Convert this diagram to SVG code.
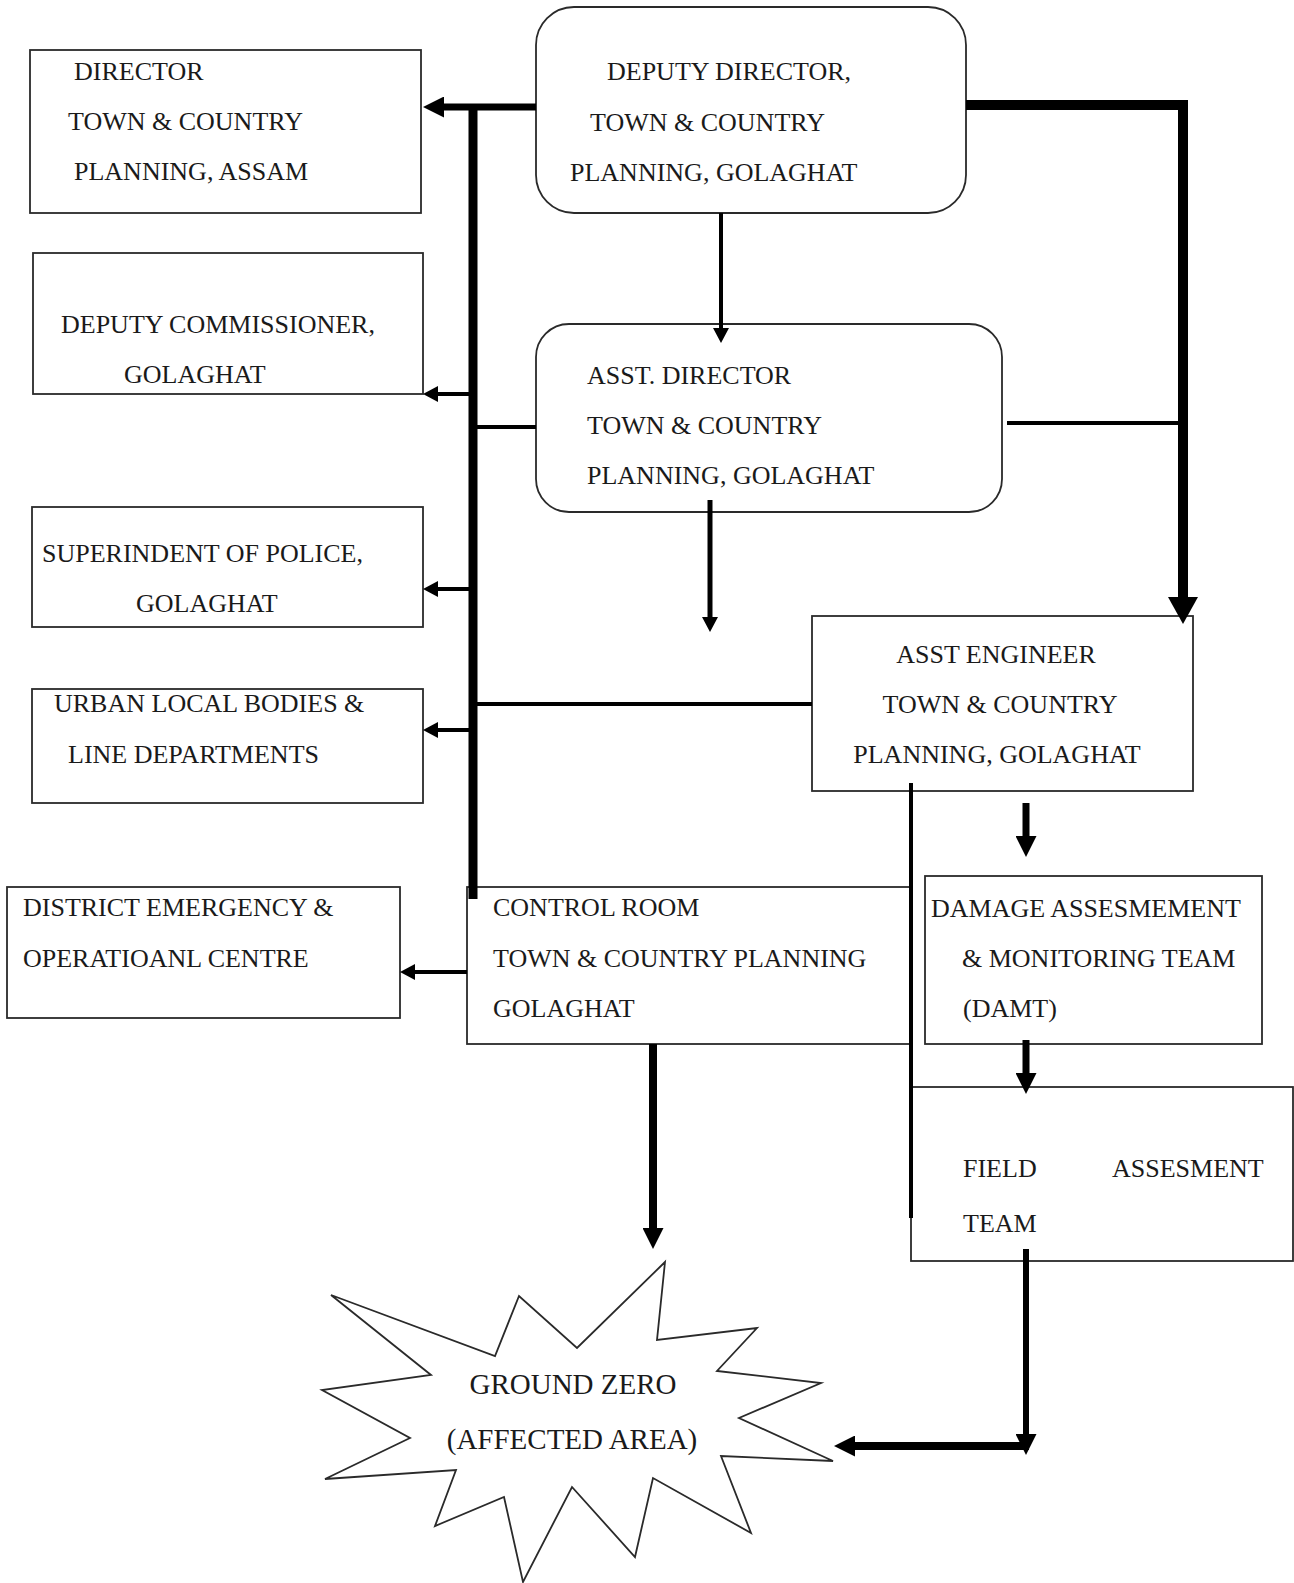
<svg xmlns="http://www.w3.org/2000/svg" width="1294" height="1583" viewBox="0 0 1294 1583">
<style>
.box{fill:#fff;stroke:#2a2a2a;stroke-width:1.8}
.t{font-family:"Liberation Serif","Times New Roman",serif;font-size:26px;fill:#1a1a1a}
.big{font-size:29px}
.c{text-anchor:middle}
.ln{stroke:#000;fill:none;stroke-linecap:butt;stroke-linejoin:miter}
</style>
<defs>
<marker id="m1" viewBox="0 0 15 16" refX="0" refY="8" markerWidth="15" markerHeight="16" markerUnits="userSpaceOnUse" orient="auto"><path d="M0,0 L15,8 L0,16 z" fill="#000"/></marker>
<marker id="m2" viewBox="0 0 21 21" refX="0" refY="10.5" markerWidth="21" markerHeight="21" markerUnits="userSpaceOnUse" orient="auto"><path d="M0,0 L21,10.5 L0,21 z" fill="#000"/></marker>
<marker id="m3" viewBox="0 0 27 30" refX="0" refY="15" markerWidth="27" markerHeight="30" markerUnits="userSpaceOnUse" orient="auto"><path d="M0,0 L27,15 L0,30 z" fill="#000"/></marker>
</defs>
<rect width="1294" height="1583" fill="#fff"/>

<g id="director"><rect class="box" x="30" y="50" width="391" height="163"/>
<text class="t" x="74" y="80">DIRECTOR</text><text class="t" x="68" y="130">TOWN &amp; COUNTRY</text><text class="t" x="74" y="180">PLANNING, ASSAM</text></g>

<g id="deputy-director"><rect class="box" x="536" y="7" width="430" height="206" rx="38"/>
<text class="t" x="607" y="80">DEPUTY DIRECTOR,</text><text class="t" x="590" y="131">TOWN &amp; COUNTRY</text><text class="t" x="570" y="181">PLANNING, GOLAGHAT</text></g>

<g id="deputy-commissioner"><rect class="box" x="33" y="253" width="390" height="141"/>
<text class="t" x="61" y="333">DEPUTY COMMISSIONER,</text><text class="t" x="124" y="383">GOLAGHAT</text></g>

<g id="asst-director"><rect class="box" x="536" y="324" width="466" height="188" rx="33"/>
<text class="t" x="587" y="384">ASST. DIRECTOR</text><text class="t" x="587" y="434">TOWN &amp; COUNTRY</text><text class="t" x="587" y="484">PLANNING, GOLAGHAT</text></g>

<g id="superintendent"><rect class="box" x="32" y="507" width="391" height="120"/>
<text class="t" x="42" y="562">SUPERINDENT OF POLICE,</text><text class="t" x="136" y="612">GOLAGHAT</text></g>

<g id="ulb"><rect class="box" x="32" y="689" width="391" height="114"/>
<text class="t" x="54" y="712">URBAN LOCAL BODIES &amp;</text><text class="t" x="68" y="763">LINE DEPARTMENTS</text></g>

<g id="asst-engineer"><rect class="box" x="812" y="616" width="381" height="175"/>
<text class="t c" x="996" y="663">ASST ENGINEER</text><text class="t c" x="1000" y="713">TOWN &amp; COUNTRY</text><text class="t c" x="997" y="763">PLANNING, GOLAGHAT</text></g>

<g id="deoc"><rect class="box" x="7" y="887" width="393" height="131"/>
<text class="t" x="23" y="916">DISTRICT EMERGENCY &amp;</text><text class="t" x="23" y="967">OPERATIOANL CENTRE</text></g>

<g id="control-room"><rect class="box" x="467" y="887" width="444" height="157"/>
<text class="t" x="493" y="916">CONTROL ROOM</text><text class="t" x="493" y="967">TOWN &amp; COUNTRY PLANNING</text><text class="t" x="493" y="1017">GOLAGHAT</text></g>

<g id="damt"><rect class="box" x="925" y="876" width="337" height="168"/>
<text class="t" x="931" y="917">DAMAGE ASSESMEMENT</text><text class="t" x="962" y="967">&amp; MONITORING TEAM</text><text class="t" x="963" y="1017">(DAMT)</text></g>

<g id="field-team"><rect class="box" x="911" y="1087" width="382" height="174"/>
<text class="t" y="1177"><tspan x="963">FIELD</tspan><tspan x="1112">ASSESMENT</tspan></text><text class="t" x="963" y="1232">TEAM</text></g>

<g id="ground-zero"><polygon class="box" points="331,1295 495,1356 519,1296 577,1348 665,1262 657,1340 757,1328 717,1371 821,1383 739,1418 833,1461 721,1456 751,1533 653,1478 635,1557 572,1487 523,1582 504,1497 435,1526 456,1470 325,1479 410,1438 322,1390 431,1375"/>
<text class="t c big" x="573" y="1394">GROUND ZERO</text><text class="t c big" x="572" y="1449">(AFFECTED AREA)</text></g>

<g id="connectors">
<line class="ln" x1="473" y1="104" x2="473" y2="899" stroke-width="9"/>
<line class="ln" x1="536" y1="107" x2="444" y2="107" stroke-width="7" marker-end="url(#m2)"/>
<line class="ln" x1="473" y1="394" x2="438" y2="394" stroke-width="4" marker-end="url(#m1)"/>
<line class="ln" x1="473" y1="589" x2="438" y2="589" stroke-width="4" marker-end="url(#m1)"/>
<line class="ln" x1="473" y1="730" x2="438" y2="730" stroke-width="4" marker-end="url(#m1)"/>
<line class="ln" x1="473" y1="427" x2="536" y2="427" stroke-width="4"/>
<line class="ln" x1="469" y1="704" x2="812" y2="704" stroke-width="4"/>
<line class="ln" x1="467" y1="972" x2="415" y2="972" stroke-width="4" marker-end="url(#m1)"/>
<polyline class="ln" points="966,105 1183,105 1183,597" stroke-width="10" marker-end="url(#m3)"/>
<line class="ln" x1="1007" y1="423" x2="1183" y2="423" stroke-width="4"/>
<line class="ln" x1="721" y1="213" x2="721" y2="328" stroke-width="4" marker-end="url(#m1)"/>
<line class="ln" x1="710" y1="500" x2="710" y2="617" stroke-width="5" marker-end="url(#m1)"/>
<line class="ln" x1="653" y1="1044" x2="653" y2="1228" stroke-width="8" marker-end="url(#m2)"/>
<line class="ln" x1="1026" y1="803" x2="1026" y2="836" stroke-width="7" marker-end="url(#m2)"/>
<line class="ln" x1="1026" y1="1040" x2="1026" y2="1073" stroke-width="7" marker-end="url(#m2)"/>
<line class="ln" x1="1026" y1="1249" x2="1026" y2="1434" stroke-width="6" marker-end="url(#m2)"/>
<line class="ln" x1="1029" y1="1446" x2="855" y2="1446" stroke-width="8" marker-end="url(#m2)"/>
<line class="ln" x1="911" y1="783" x2="911" y2="1218" stroke-width="4"/>
</g>
</svg>
